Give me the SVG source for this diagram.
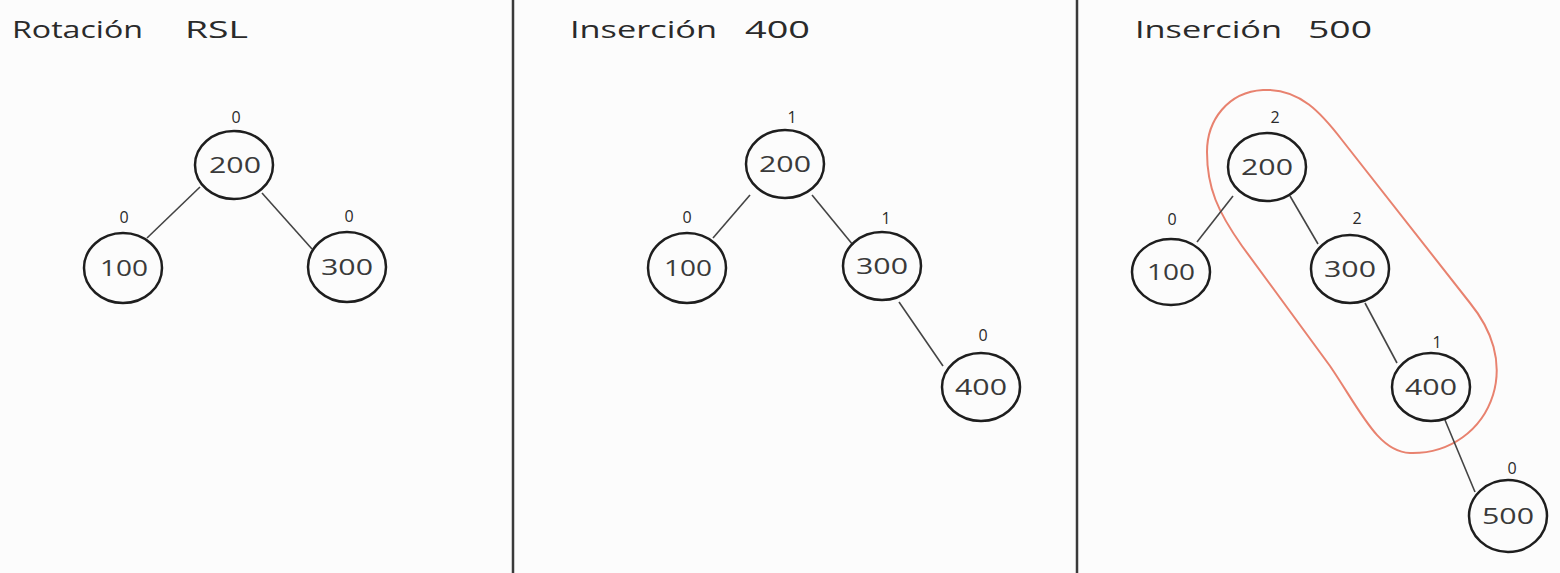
<svg xmlns="http://www.w3.org/2000/svg" width="1560" height="573" viewBox="0 0 1560 573">
<style>
.bg{fill:#fcfcfc}
.div{stroke:#3a3a3a;stroke-width:2.5}
.node ellipse{fill:none;stroke:#1e1e1e;stroke-width:2.5}
.lbl{font-family:"Open Sans","Liberation Sans",sans-serif;font-size:22px;fill:#3a3a3a;text-anchor:middle}
.bf{font-family:"Open Sans","Liberation Sans",sans-serif;font-size:16px;fill:#2a2a2a;text-anchor:middle}
.title{font-family:"Open Sans","Liberation Sans",sans-serif;font-size:24px;fill:#2a2a2a}
.edge{stroke:#444;stroke-width:1.6;fill:none}
.hl{fill:none;stroke:#e8826f;stroke-width:2}
</style>
<rect class="bg" x="0" y="0" width="1560" height="573"/>
<line class="div" x1="513" y1="0" x2="513" y2="573"/>
<line class="div" x1="1077" y1="0" x2="1077" y2="573"/>
<g id="titles">
<text class="title" x="12" y="38" textLength="131" lengthAdjust="spacingAndGlyphs">Rotación</text>
<text class="title" x="185" y="38" textLength="63" lengthAdjust="spacingAndGlyphs">RSL</text>
<text class="title" x="570" y="38" textLength="147" lengthAdjust="spacingAndGlyphs">Inserción</text>
<text class="title" x="745" y="38" textLength="65" lengthAdjust="spacingAndGlyphs">400</text>
<text class="title" x="1135" y="38" textLength="147" lengthAdjust="spacingAndGlyphs">Inserción</text>
<text class="title" x="1308" y="38" textLength="64" lengthAdjust="spacingAndGlyphs">500</text>
</g>
<path id="highlight" class="hl" d="M1263,90 C1228,92 1207,120 1207,152 C1207,188 1218,212 1242,246 L1330,366 C1360,410 1378,452 1410,453 C1450,454 1482,430 1493,395 C1503,362 1492,330 1470,303 L1342,140 C1322,114 1300,88 1263,90 Z"/>
<g id="connectors">
<line class="edge" x1="200" y1="187" x2="147" y2="238"/>
<line class="edge" x1="262" y1="193" x2="312" y2="249"/>
<line class="edge" x1="750" y1="195" x2="713" y2="238"/>
<line class="edge" x1="812" y1="195" x2="853" y2="245"/>
<line class="edge" x1="899" y1="302" x2="943" y2="366"/>
<line class="edge" x1="1233" y1="196" x2="1197" y2="242"/>
<line class="edge" x1="1290" y1="196" x2="1318" y2="244"/>
<line class="edge" x1="1365" y1="303" x2="1397" y2="363"/>
<line class="edge" x1="1445" y1="420" x2="1475" y2="492"/>
</g>
<g id="p1-200" class="node"><ellipse cx="234" cy="165" rx="39" ry="34"/><text class="lbl" x="235" y="173" textLength="52" lengthAdjust="spacingAndGlyphs">200</text><text class="bf" x="236" y="123">0</text></g>
<g id="p1-100" class="node"><ellipse cx="123" cy="268" rx="39" ry="35"/><text class="lbl" x="124" y="276" textLength="48" lengthAdjust="spacingAndGlyphs">100</text><text class="bf" x="124" y="223">0</text></g>
<g id="p1-300" class="node"><ellipse cx="347" cy="267" rx="39" ry="35"/><text class="lbl" x="347" y="275" textLength="52" lengthAdjust="spacingAndGlyphs">300</text><text class="bf" x="349" y="222">0</text></g>
<g id="p2-200" class="node"><ellipse cx="785" cy="164" rx="39" ry="34"/><text class="lbl" x="785" y="172" textLength="52" lengthAdjust="spacingAndGlyphs">200</text><text class="bf" x="792" y="123">1</text></g>
<g id="p2-100" class="node"><ellipse cx="687" cy="268" rx="39" ry="35"/><text class="lbl" x="688" y="276" textLength="48" lengthAdjust="spacingAndGlyphs">100</text><text class="bf" x="687" y="223">0</text></g>
<g id="p2-300" class="node"><ellipse cx="882" cy="266" rx="39" ry="34"/><text class="lbl" x="882" y="274" textLength="52" lengthAdjust="spacingAndGlyphs">300</text><text class="bf" x="886" y="224">1</text></g>
<g id="p2-400" class="node"><ellipse cx="981" cy="387" rx="39" ry="34"/><text class="lbl" x="981" y="395" textLength="52" lengthAdjust="spacingAndGlyphs">400</text><text class="bf" x="983" y="341">0</text></g>
<g id="p3-200" class="node"><ellipse cx="1267" cy="167" rx="39" ry="34"/><text class="lbl" x="1267" y="175" textLength="52" lengthAdjust="spacingAndGlyphs">200</text><text class="bf" x="1275" y="123">2</text></g>
<g id="p3-100" class="node"><ellipse cx="1171" cy="272" rx="39" ry="33"/><text class="lbl" x="1171" y="280" textLength="48" lengthAdjust="spacingAndGlyphs">100</text><text class="bf" x="1172" y="225">0</text></g>
<g id="p3-300" class="node"><ellipse cx="1350" cy="269" rx="39" ry="34"/><text class="lbl" x="1350" y="277" textLength="52" lengthAdjust="spacingAndGlyphs">300</text><text class="bf" x="1357" y="224">2</text></g>
<g id="p3-400" class="node"><ellipse cx="1431" cy="387" rx="39" ry="34"/><text class="lbl" x="1431" y="395" textLength="52" lengthAdjust="spacingAndGlyphs">400</text><text class="bf" x="1437" y="348">1</text></g>
<g id="p3-500" class="node"><ellipse cx="1508" cy="516" rx="39" ry="36"/><text class="lbl" x="1508" y="524" textLength="52" lengthAdjust="spacingAndGlyphs">500</text><text class="bf" x="1512" y="474">0</text></g>
</svg>
